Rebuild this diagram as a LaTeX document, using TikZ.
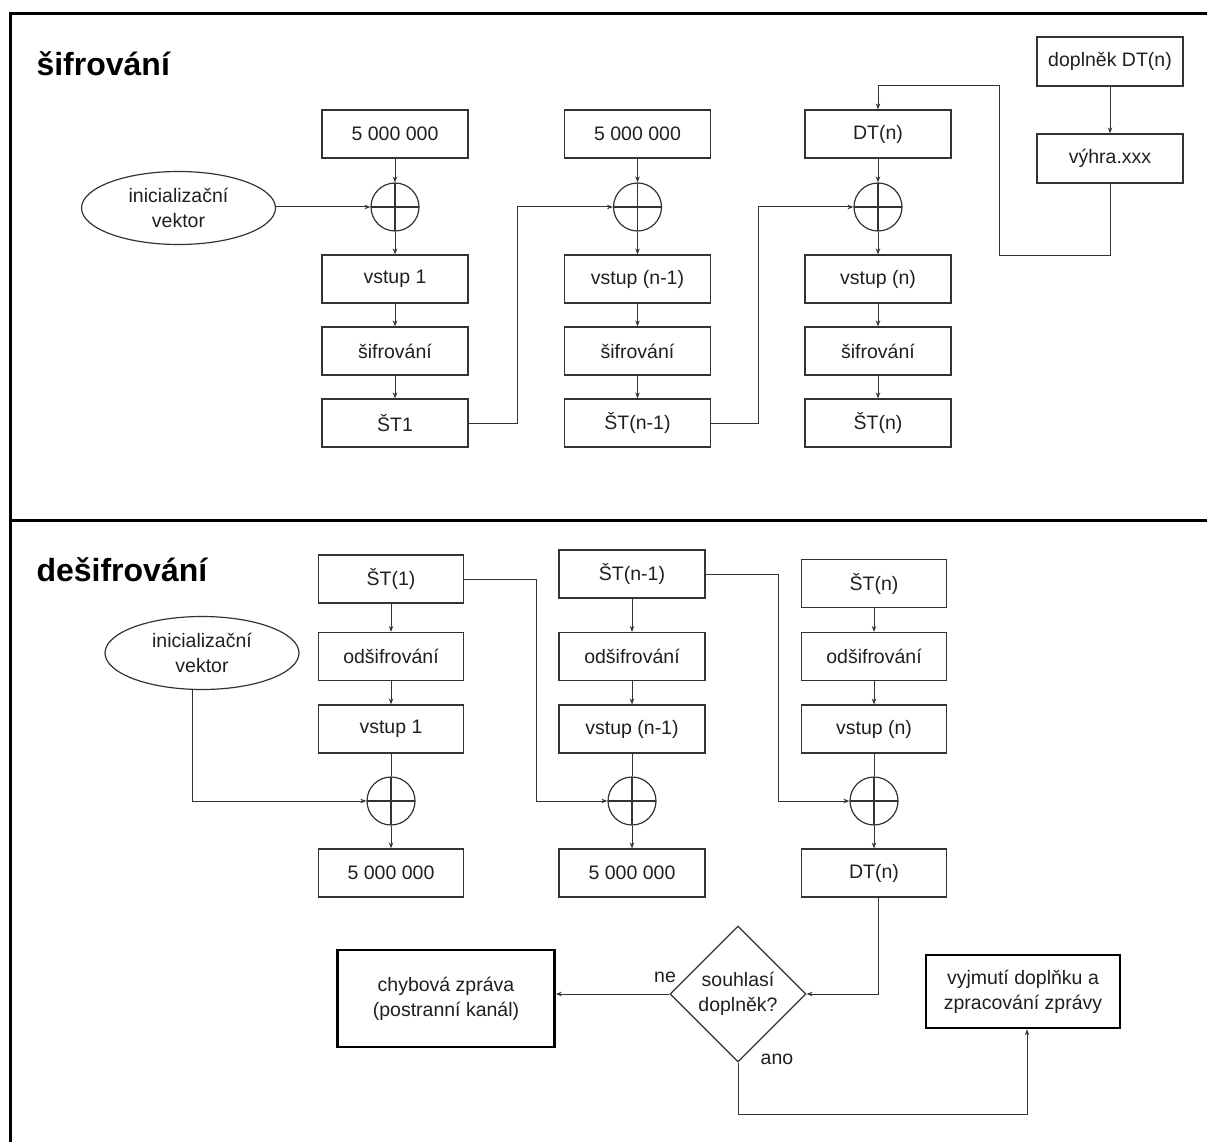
\documentclass[tikz,border=0pt]{standalone}
\usepackage{fontspec}
\setmainfont{Liberation Sans}
\usetikzlibrary{shapes.geometric,arrows.meta}
\begin{document}
\begin{tikzpicture}[x=1pt,y=-1pt,
  txt/.style={text=black!88, font=\fontsize{19.5}{25}\selectfont, align=center},
  blk/.style={txt, draw=black!80, line width=1.2pt, minimum width=146pt,
    minimum height=48pt, inner sep=0pt},
  thick box/.style={blk, line width=2.6pt, draw=black},
  oval/.style={txt, ellipse, draw=black!80, line width=1.2pt,
    minimum width=194pt, minimum height=73pt, inner sep=0pt},
  xor/.style={circle, draw=black!80, line width=1.2pt, minimum size=48pt,
    inner sep=0pt, path picture={\draw[black!80, line width=1.2pt]
      (path picture bounding box.north) -- (path picture bounding box.south)
      (path picture bounding box.west) -- (path picture bounding box.east);}},
  test/.style={txt, diamond, draw=black!80, line width=1.2pt,
    minimum width=136pt, minimum height=136pt, inner sep=0pt},
  title/.style={anchor=base west, text=black,
    font=\fontsize{32}{38}\bfseries\selectfont},
  wire/.style={draw=black!80, line width=1pt},
  conn/.style={wire, -{Stealth[length=6pt,width=4.5pt]}},
]
\useasboundingbox (0,0) rectangle (1207,1142);

% frame and divider
\draw[line width=3pt] (10,1142) -- (10,14) -- (1207,14);
\draw[line width=3pt] (10,520) -- (1207,520);

% ---------------- encryption ----------------
\node[title] (t1) at (33,76) {šifrování};

\node[oval] (iv1) at (178.5,208) {inicializační\\vektor};

\node[blk] (k1) at (395,134) {5 000 000};
\node[xor] (x1) at (395,207) {};
\node[blk] (v1) at (395,279) {vstup 1};
\node[blk] (s1) at (395,351) {šifrování};
\node[blk] (o1) at (395,423) {ŠT1};

\node[blk] (k2) at (637.5,134) {5 000 000};
\node[xor] (x2) at (637.5,207) {};
\node[blk] (v2) at (637.5,279) {vstup (n-1)};
\node[blk] (s2) at (637.5,351) {šifrování};
\node[blk] (o2) at (637.5,423) {ŠT(n-1)};

\node[blk] (k3) at (878,134) {DT(n)};
\node[xor] (x3) at (878,207) {};
\node[blk] (v3) at (878,279) {vstup (n)};
\node[blk] (s3) at (878,351) {šifrování};
\node[blk] (o3) at (878,423) {ŠT(n)};

\node[blk, minimum height=49pt] (w1) at (1110,61.5) {doplněk DT(n)};
\node[blk, minimum height=49pt] (w2) at (1110,158.5) {výhra.xxx};

\coordinate (b1) at (999,255);
\coordinate (b2) at (878,86);

\draw[conn] (iv1.east |- x1.west) -- (x1.west);
\foreach \c in {1,2,3} {
  \draw[conn] (k\c) -- (x\c);
  \draw[conn] (x\c) -- (v\c);
  \draw[conn] (v\c) -- (s\c);
  \draw[conn] (s\c) -- (o\c);
}
\draw[conn] (o1.east) -- ++(48.5,0) |- (x2.west);
\draw[conn] (o2.east) -- ++(47.5,0) |- (x3.west);
\draw[conn] (w1) -- (w2);
\draw[conn] (w2.south) |- (b1) |- (b2) -- (k3.north);

% ---------------- decryption ----------------
\node[title] (t2) at (33,581) {dešifrování};

\node[oval] (iv2) at (202,653) {inicializační\\vektor};

\node[blk, minimum width=145pt] (p1) at (391,579) {ŠT(1)};
\node[blk, minimum width=145pt] (d1) at (391,656.5) {odšifrování};
\node[blk, minimum width=145pt] (u1) at (391,729) {vstup 1};
\node[xor] (y1) at (391,801) {};
\node[blk, minimum width=145pt] (z1) at (391,873) {5 000 000};

\node[blk] (p2) at (632,574) {ŠT(n-1)};
\node[blk] (d2) at (632,656.5) {odšifrování};
\node[blk] (u2) at (632,729) {vstup (n-1)};
\node[xor] (y2) at (632,801) {};
\node[blk] (z2) at (632,873) {5 000 000};

\node[blk, minimum width=145pt] (p3) at (874,583.5) {ŠT(n)};
\node[blk, minimum width=145pt] (d3) at (874,656.5) {odšifrování};
\node[blk, minimum width=145pt] (u3) at (874,729) {vstup (n)};
\node[xor] (y3) at (874,801) {};
\node[blk, minimum width=145pt] (z3) at (874,873) {DT(n)};

\node[test] (dm) at (738,994) {souhlasí\\doplněk?};
\node[thick box, minimum width=217pt, minimum height=97pt] (err) at (446,998.5)
  {chybová zpráva\\(postranní kanál)};
\node[thick box, minimum width=194pt, minimum height=73pt] (ok) at (1023,991.5)
  {vyjmutí doplňku a\\zpracování zprávy};
\node[txt] (ne) at (665,977) {ne};
\node[txt] (ano) at (777,1059) {ano};

\foreach \c in {1,2,3} {
  \draw[conn] (p\c) -- (d\c);
  \draw[conn] (d\c) -- (u\c);
  \draw[wire] (u\c) -- (y\c);
  \draw[conn] (y\c) -- (z\c);
}
\draw[conn] ([xshift=-10pt]iv2.south) |- (y1.west);
\draw[conn] (p1.east) -- ++(72,0) |- (y2.west);
\draw[conn] (p2.east) -- ++(72.5,0) |- (y3.west);
\draw[conn] ([xshift=4pt]z3.south) |- (dm.east);
\draw[conn] (dm.west) -- (dm.west -| err.east);
\draw[conn] (dm.south) -- ++(0,52) -| ([xshift=4pt]ok.south);
\end{tikzpicture}
\end{document}
